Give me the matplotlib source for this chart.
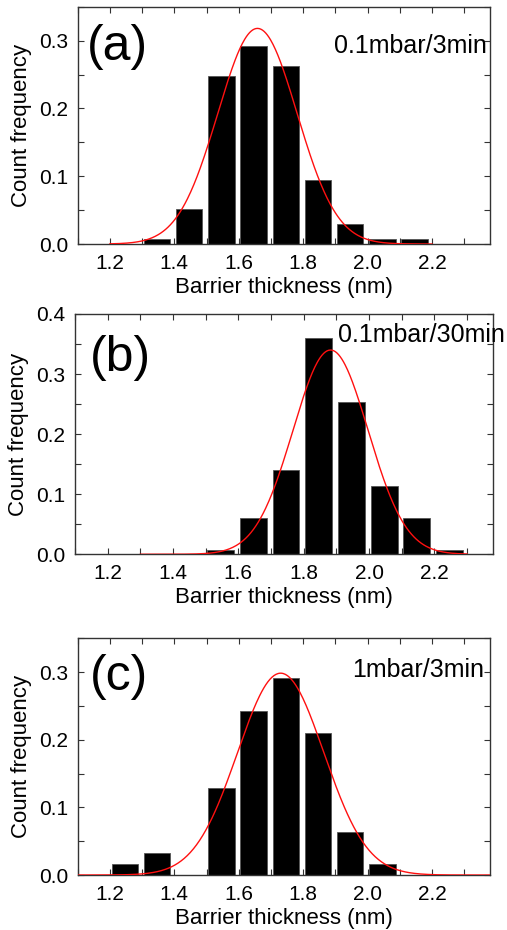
import numpy as np
import matplotlib
matplotlib.use("Agg")
import matplotlib.pyplot as plt
from matplotlib.ticker import MultipleLocator

plt.rcParams['font.family'] = ['Liberation Sans', 'DejaVu Sans']

# histogram data: left edge of each 0.1 nm bin and its count frequency
a_bins = [1.3, 1.4, 1.5, 1.6, 1.7, 1.8, 1.9, 2.0, 2.1]
a_freq = [0.007, 0.051, 0.248, 0.292, 0.263, 0.094, 0.029, 0.007, 0.007]
b_bins = [1.5, 1.6, 1.7, 1.8, 1.9, 2.0, 2.1, 2.2]
b_freq = [0.007, 0.060, 0.140, 0.360, 0.253, 0.113, 0.060, 0.007]
c_bins = [1.2, 1.3, 1.5, 1.6, 1.7, 1.8, 1.9, 2.0]
c_freq = [0.016, 0.032, 0.129, 0.243, 0.291, 0.210, 0.064, 0.016]

# gaussian fits: centre, amplitude, sigma, x range of the fit line
a_fit = (1.658, 0.318, 0.123, 1.2, 2.2)
b_fit = (1.882, 0.340, 0.115, 1.3, 2.3)
c_fit = (1.730, 0.2985, 0.134, 1.1, 2.38)

labels = ['(a)', '(b)', '(c)']
conditions = ['0.1mbar/3min', '0.1mbar/30min', '1mbar/3min']

fig = plt.figure(figsize=(5.07, 9.30), dpi=100)
positions = [[0.1533, 0.7376, 0.8132, 0.2552],
             [0.1479, 0.4040, 0.8250, 0.2584],
             [0.1533, 0.0591, 0.8132, 0.2545]]
ylims = [0.35, 0.4, 0.35]
# text placement (axes coords) for the panel letter and the condition
letter_pos = [(0.022, 0.83), (0.035, 0.815), (0.030, 0.835)]
cond_pos = [(0.993, 0.834, 'right'), (0.629, 0.911, 'left'), (0.985, 0.866, 'right')]

data = [(a_bins, a_freq, a_fit), (b_bins, b_freq, b_fit), (c_bins, c_freq, c_fit)]

for i in range(3):
    bins, freq, fit = data[i]
    ax = fig.add_axes(positions[i])
    ax.bar(np.array(bins) + 0.005, freq, width=0.082, align='edge',
           color='black', edgecolor='#555555', linewidth=0.6, zorder=2)
    xc, amp, sig, x0, x1 = fit
    xs = np.linspace(x0, x1, 400)
    ax.plot(xs, amp * np.exp(-0.5 * ((xs - xc) / sig) ** 2), color='#ff1010',
            linewidth=1.0, zorder=3)
    ax.set_xlim(1.1, 2.38)
    ax.set_ylim(0, ylims[i])
    ax.xaxis.set_major_locator(MultipleLocator(0.2))
    ax.xaxis.set_minor_locator(MultipleLocator(0.1))
    ax.yaxis.set_major_locator(MultipleLocator(0.1))
    ax.yaxis.set_minor_locator(MultipleLocator(0.05))
    ax.set_xticks([1.2, 1.4, 1.6, 1.8, 2.0, 2.2])
    ax.tick_params(which='both', direction='in', top=True, right=True,
                   length=4, width=0.8, color='#333333')
    ax.tick_params(which='major', labelsize=15, pad=7)
    for s in ax.spines.values():
        s.set_color('#333333')
        s.set_linewidth(1.0)
    ax.set_xlabel('Barrier thickness (nm)', fontsize=16, labelpad=3)
    ax.set_ylabel('Count frequency', fontsize=16, labelpad=5)
    ax.text(letter_pos[i][0], letter_pos[i][1], labels[i], transform=ax.transAxes,
            fontsize=36, ha='left', va='center')
    ax.text(cond_pos[i][0], cond_pos[i][1], conditions[i], transform=ax.transAxes,
            fontsize=18, ha=cond_pos[i][2], va='center', clip_on=False)

fig.savefig('out.png', dpi=100)
